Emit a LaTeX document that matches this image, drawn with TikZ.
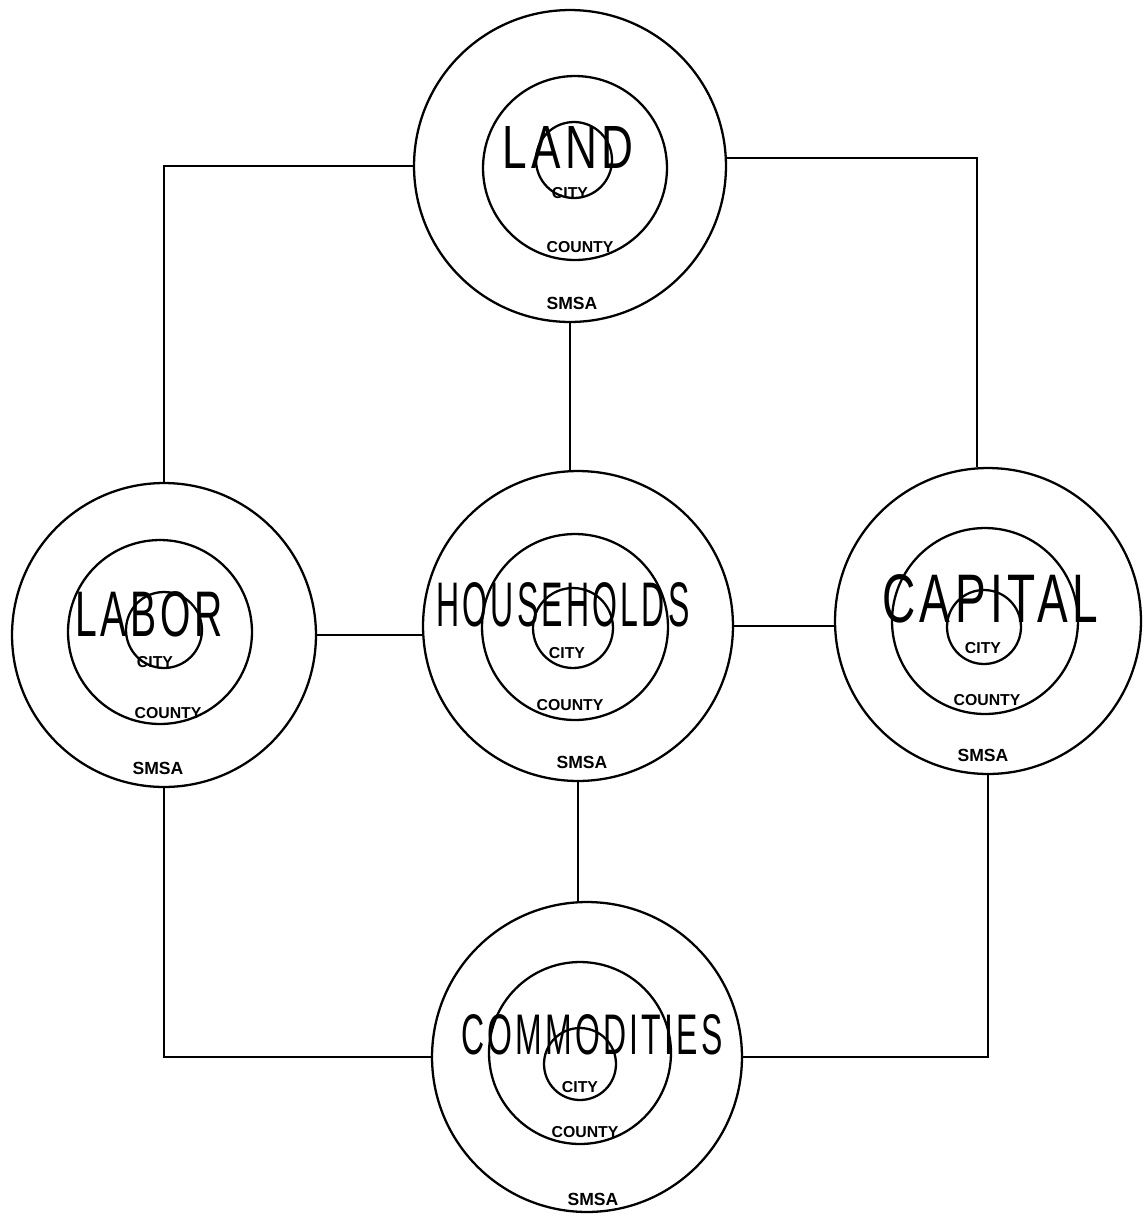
\documentclass[tikz,border=0pt]{standalone}
\usepackage{fontspec}
\setmainfont{Liberation Sans}
\newfontfamily\letterfont[LetterSpace=10]{Liberation Sans}
\usepackage{graphicx}
\usepackage{tikz}
\usetikzlibrary{positioning,calc}

% hand-lettered sector name, stretched to the measured box
\newcommand{\sectorname}[3]{\resizebox{#1}{#2}{\letterfont #3}}

\begin{document}
\begin{tikzpicture}[x=0.02cm, y=-0.02cm,
    ring/.style={circle, draw, line width=1.3pt, inner sep=0pt, minimum size=#1},
    link/.style={draw, line width=1.1pt},
    area/.style={font=\fontsize{9}{9}\selectfont\bfseries, inner sep=0pt},
    smsa/.style={font=\fontsize{10}{10}\selectfont\bfseries, inner sep=0pt}]

\useasboundingbox (0,0) rectangle (1147,1215);

% Land
\node[ring=6.24cm] (landO) at (570,166) {};
\node[ring=3.68cm] (landM) at (575,168) {};
\node[ring=1.52cm] (landI) at (574,160) {};
\node[inner sep=0pt] (landT) at (568,147) {\sectorname{2.62cm}{0.84cm}{LAND}};
\node[area] (landC) at (570,193) {CITY};
\node[area] (landK) at (580,247) {COUNTY};
\node[smsa] (landS) at (572,303) {SMSA};

% Labor
\node[ring=6.08cm] (laborO) at (164,635) {};
\node[ring=3.68cm] (laborM) at (160,632) {};
\node[ring=1.52cm] (laborI) at (164,630) {};
\node[inner sep=0pt] (laborT) at (149,614) {\sectorname{2.96cm}{0.90cm}{LABOR}};
\node[area] (laborC) at (155,662) {CITY};
\node[area] (laborK) at (168,713) {COUNTY};
\node[smsa] (laborS) at (158,768) {SMSA};

% Households
\node[ring=6.2cm] (householdsO) at (578,626) {};
\node[ring=3.72cm] (householdsM) at (575,627) {};
\node[ring=1.6cm] (householdsI) at (573,628) {};
\node[inner sep=0pt] (householdsT) at (563,605) {\sectorname{5.06cm}{0.88cm}{HOUSEHOLDS}};
\node[area] (householdsC) at (567,653) {CITY};
\node[area] (householdsK) at (570,705) {COUNTY};
\node[smsa] (householdsS) at (582,762) {SMSA};

% Capital
\node[ring=6.12cm] (capitalO) at (988,621) {};
\node[ring=3.72cm] (capitalM) at (985,621) {};
\node[ring=1.48cm] (capitalI) at (984,627) {};
\node[inner sep=0pt] (capitalT) at (990,599) {\sectorname{4.32cm}{0.96cm}{CAPITAL}};
\node[area] (capitalC) at (983,648) {CITY};
\node[area] (capitalK) at (987,700) {COUNTY};
\node[smsa] (capitalS) at (983,755) {SMSA};

% Commodities
\node[ring=6.2cm] (commO) at (587,1057) {};
\node[ring=3.64cm] (commM) at (580,1053) {};
\node[ring=1.44cm] (commI) at (580,1064) {};
\node[inner sep=0pt] (commT) at (592,1035) {\sectorname{5.22cm}{0.80cm}{COMMODITIES}};
\node[area] (commC) at (580,1087) {CITY};
\node[area] (commK) at (585,1132) {COUNTY};
\node[smsa] (commS) at (593,1199) {SMSA};

% Links between sectors
\draw[link] (landO.west) -| (laborO.north);
\draw[link] (landO.3) -| (capitalO.94);
\draw[link] (landO.south) -- (landO.south |- householdsO.north);
\draw[link] (laborO.east) -- (laborO.east -| householdsO.west);
\draw[link] (householdsO.east) -- (householdsO.east -| capitalO.west);
\draw[link] (householdsO.south) -- (householdsO.south |- commO.north);
\draw[link] (laborO.south) |- (commO.west);
\draw[link] (capitalO.south) |- (commO.east);

\end{tikzpicture}
\end{document}
